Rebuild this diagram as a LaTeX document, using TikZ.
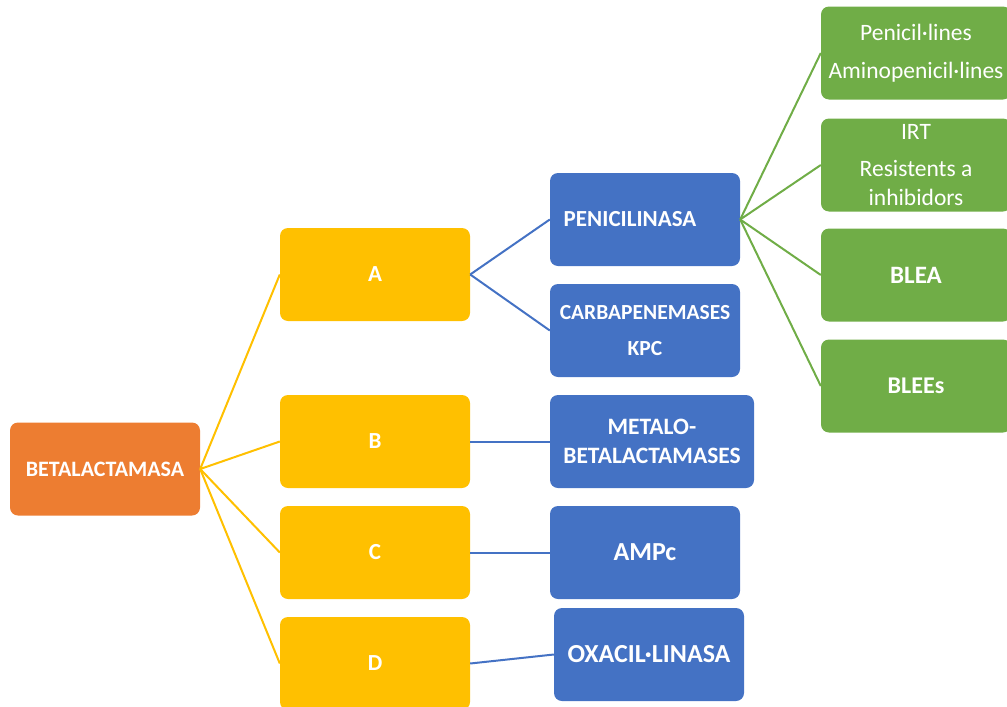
\documentclass[tikz,border=0pt]{standalone}
\usepackage{fontspec}
\setmainfont{Carlito}
\definecolor{corange}{HTML}{ED7D31}
\definecolor{cyellow}{HTML}{FFC000}
\definecolor{cblue}{HTML}{4472C4}
\definecolor{cgreen}{HTML}{70AD47}
\newcommand{\fs}[1]{\fontsize{#1}{1.22\dimexpr#1pt\relax}\selectfont}
\tikzset{
  box/.style={rectangle, rounded corners=8pt, minimum width=190pt, minimum height=93pt,
    text=white, align=center, inner sep=0pt},
  rootbox/.style={box, fill=corange},
  ybox/.style={box, fill=cyellow},
  bbox/.style={box, fill=cblue},
  gbox/.style={box, fill=cgreen},
  bf/.style={font=\bfseries\fs{#1}},
  rg/.style={font=\mdseries\fs{#1}},
  yline/.style={draw=cyellow, line width=2pt},
  bline/.style={draw=cblue, line width=2pt},
  gline/.style={draw=cgreen, line width=2pt},
}
\begin{document}
\begin{tikzpicture}[x=1pt,y=-1pt]
\useasboundingbox (0,0) rectangle (1007,707);
\clip (0,0) rectangle (1007,707);
% root
\node[rootbox, bf=22] (root) at (105,469) {BETALACTAMASA};
% classes
\node[ybox, bf=23] (A) at (375,274.5) {A};
\node[ybox, bf=23] (B) at (375,441.5) {B};
\node[ybox, bf=23] (C) at (375,552.5) {C};
\node[ybox, bf=23] (D) at (375,663.5) {D};
% enzymes
\node[bbox, bf=23] (pen) at (645,219.5) {PENICILINASA\hspace{30pt}};
\node[bbox, bf=21.5] (carb) at (645,330.5) {CARBAPENEMASES\\[9pt]KPC};
\node[bbox, bf=23.5, minimum width=204pt] (metalo) at (652,441.5) {METALO-\\BETALACTAMASES};
\node[bbox, bf=26] (ampc) at (645,552.5) {AMPc};
\node[bbox, bf=26] (oxa) at (649,654.5) {OXACIL·LINASA};
% green
\node[gbox, rg=23.5] (g1) at (916,53) {Penicil·lines\\[9pt]Aminopenicil·lines};
\node[gbox, rg=23.5] (g2) at (916,165) {IRT\\[8pt]Resistents a\\inhibidors};
\node[gbox, bf=25] (g3) at (916,275) {BLEA};
\node[gbox, bf=24] (g4) at (916,386) {BLEEs};
% connectors
\foreach \t in {A,B,C,D} \draw[yline] (root.east) -- (\t.west);
\draw[bline] (A.east) -- (pen.west);
\draw[bline] (A.east) -- (carb.west);
\draw[bline] (B.east) -- (metalo.west);
\draw[bline] (C.east) -- (ampc.west);
\draw[bline] (D.east) -- (oxa.west);
\foreach \t in {g1,g2,g3,g4} \draw[gline] (pen.east) -- (\t.west);
\end{tikzpicture}
\end{document}
